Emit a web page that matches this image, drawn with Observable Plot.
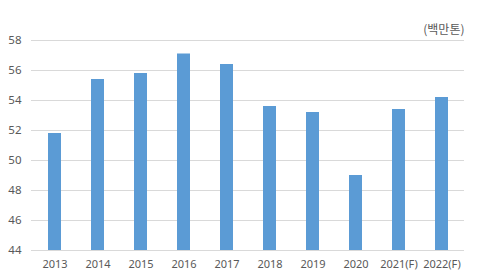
<!DOCTYPE html>
<html>
<head>
<meta charset="utf-8">
<script src="https://cdn.jsdelivr.net/npm/d3@7"></script>
<script src="https://cdn.jsdelivr.net/npm/@observablehq/plot@0.6"></script>
<style>
  html, body { margin: 0; padding: 0; background: #fff; }
  #chart { width: 479px; height: 277px; }
</style>
</head>
<body>
<div id="chart"></div>
<script>
const years = ["2013", "2014", "2015", "2016", "2017", "2018", "2019", "2020", "2021(F)", "2022(F)"];
const values = [51.8, 55.4, 55.8, 57.1, 56.4, 53.6, 53.2, 49.0, 53.4, 54.2];
const yTicks = [44, 46, 48, 50, 52, 54, 56, 58];
const unitLabel = "(백만톤)";

const data = years.map((y, i) => ({year: y, value: values[i]}));

const chart = Plot.plot({
  width: 479,
  height: 277,
  marginLeft: 31,
  marginRight: 15,
  marginTop: 40,
  marginBottom: 27,
  style: {fontFamily: "'Noto Sans', 'Noto Sans CJK KR', sans-serif", fontSize: "11px", color: "#595959", background: "#fff"},
  x: {domain: years, paddingInner: 0.7, paddingOuter: 0.35, label: null},
  y: {domain: [44, 58], label: null},
  marks: [
    Plot.gridY(yTicks, {stroke: "#d9d9d9", strokeOpacity: 1}),
    Plot.axisY(yTicks, {tickSize: 0, tickPadding: 10, label: null, fill: "#595959", fontSize: 11.5}),
    Plot.axisX({tickSize: 0, tickPadding: 10, label: null, fill: "#595959", fontSize: 11}),
    Plot.barY(data, {x: "year", y1: 44, y2: "value", fill: "#5b9bd5"}),
    Plot.text([unitLabel], {frameAnchor: "top-right", text: d => d, dy: -15, dx: 0, textAnchor: "end", fill: "#595959", fontSize: 12, fontFamily: "'Noto Sans CJK KR', sans-serif"})
  ]
});
document.getElementById("chart").appendChild(chart);
</script>
</body>
</html>
